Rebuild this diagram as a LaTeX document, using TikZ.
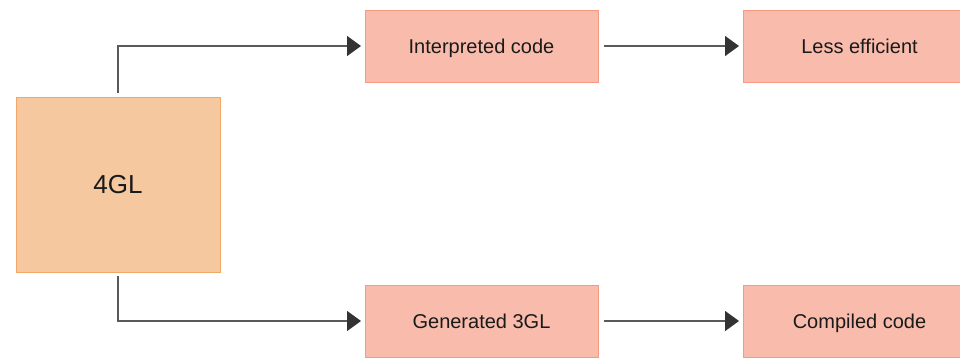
\documentclass[tikz,border=0pt]{standalone}
\usepackage{fontspec}
\setmainfont{Liberation Sans}
\usetikzlibrary{arrows.meta}

\definecolor{srcfill}{HTML}{F5C89F}
\definecolor{srcline}{HTML}{F3A766}
\definecolor{boxfill}{HTML}{F9BCAC}
\definecolor{boxline}{HTML}{F69882}
\definecolor{wire}{HTML}{5A5A5A}
\definecolor{tip}{HTML}{333333}
\definecolor{ink}{HTML}{1A1A1A}

\tikzset{
  srcbox/.style={draw=srcline, fill=srcfill, line width=1pt, inner sep=0pt,
    minimum width=204pt, minimum height=175pt, text=ink,
    text height=18.6pt, text depth=0pt,
    font=\fontsize{26}{30}\selectfont},
  stagebox/.style={draw=boxline, fill=boxfill, line width=1pt, inner sep=0pt,
    minimum width=233pt, minimum height=72pt, text=ink,
    text height=14.3pt, text depth=0pt,
    font=\fontsize{20}{24}\selectfont},
  flow/.style={draw=wire, line width=1.4pt,
    -{Triangle[length=14pt,width=20pt,color=tip]},
    shorten >=3.5pt}
}

\begin{document}
\begin{tikzpicture}[x=1pt,y=-1pt]
  \useasboundingbox (0,0) rectangle (960,357);
  \clip (0,0) rectangle (960,357);

  \node[srcbox]   (g)  at (118,184.5) {4GL};
  \node[stagebox] (ic) at (481.5,46)  {Interpreted code};
  \node[stagebox] (le) at (859.5,46)  {Less efficient};
  \node[stagebox] (gc) at (481.5,321) {Generated 3GL};
  \node[stagebox] (cc) at (859.5,321) {Compiled code};

  \draw[flow, shorten <=4pt] (g.north) |- (ic.west);
  \draw[flow, shorten <=3pt] (g.south) |- (gc.west);
  \draw[flow, shorten <=5pt] (ic.east) -- (le.west);
  \draw[flow, shorten <=5pt] (gc.east) -- (cc.west);
\end{tikzpicture}
\end{document}
